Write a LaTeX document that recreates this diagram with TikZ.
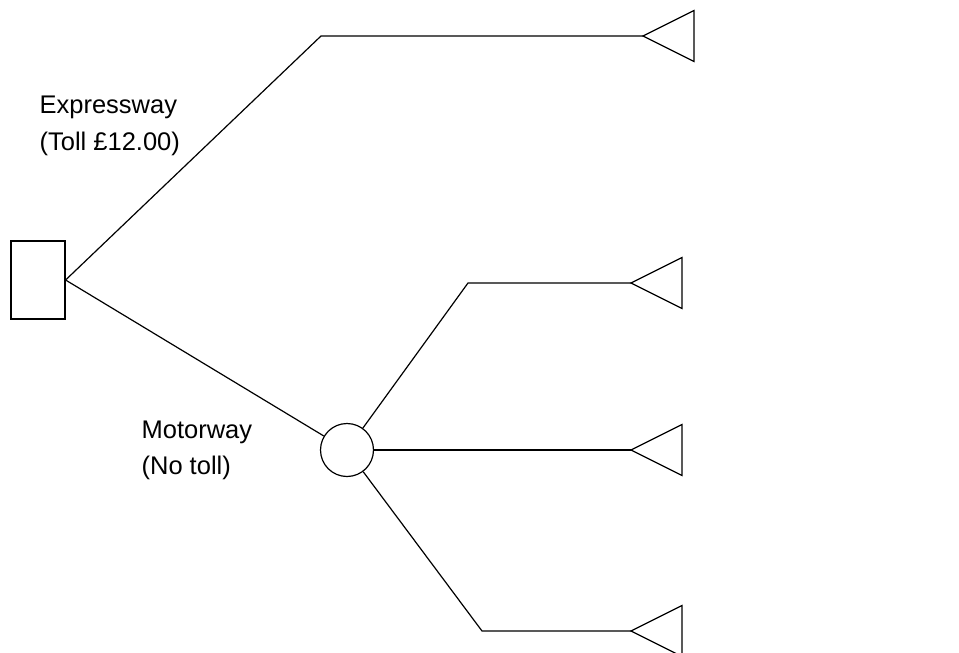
\documentclass[tikz,border=0pt]{standalone}
\usepackage{fontspec}
\setmainfont{Liberation Sans}
\begin{document}
\begin{tikzpicture}[x=1pt,y=-1pt,line width=1.2pt,
  decbox/.style={draw,rectangle,inner sep=0pt,minimum width=54pt,minimum height=78pt},
  chance/.style={draw,circle,inner sep=0pt,minimum size=53pt},
  lbl/.style={anchor=base west,inner sep=0pt,font=\fontsize{25.5}{30}\selectfont},
  term/.pic={\draw (0,0) -- (51,-25.5) -- (51,25.5) -- cycle;}]
\useasboundingbox (0,0) rectangle (959,653);
\node[decbox] (dec) at (38,280) {};
\node[chance] (ch) at (347,450) {};
\coordinate (e1) at (321,36);
\coordinate (t1) at (643,36);
\coordinate (e2) at (468,283);
\coordinate (t2) at (631,283);
\coordinate (t3) at (631,450);
\coordinate (e4) at (482,631);
\coordinate (t4) at (631,631);
\pic at (t1) {term};
\pic at (t2) {term};
\pic at (t3) {term};
\pic at (t4) {term};
\draw (dec.east) -- (e1) -- (t1);
\draw (dec.east) -- (ch);
\draw (ch) -- (e2) -- (t2);
\draw (ch) -- (t3);
\draw (ch) -- (e4) -- (t4);
\node[lbl] (l1) at (39,113) {Expressway};
\node[lbl] (l2) at (39,150) {(Toll £12.00)};
\node[lbl] (l3) at (141,438) {Motorway};
\node[lbl] (l4) at (141,474) {(No toll)};
\end{tikzpicture}
\end{document}
